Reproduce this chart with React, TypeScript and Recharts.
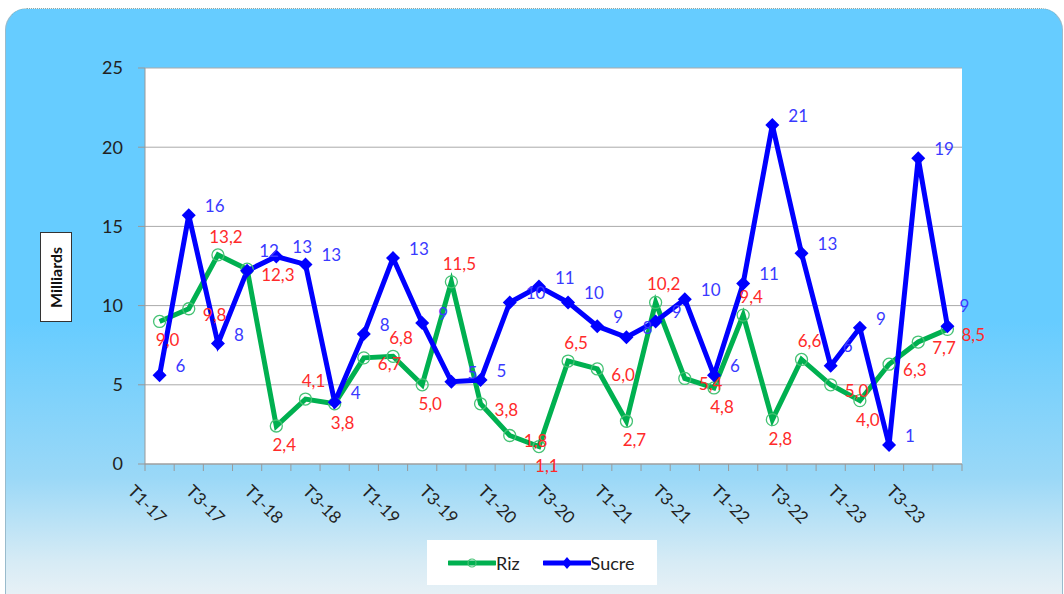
import { ComposedChart, Line, XAxis, YAxis, CartesianGrid } from 'recharts';

const quarters = [
  'T1-17', 'T2-17', 'T3-17', 'T4-17',
  'T1-18', 'T2-18', 'T3-18', 'T4-18',
  'T1-19', 'T2-19', 'T3-19', 'T4-19',
  'T1-20', 'T2-20', 'T3-20', 'T4-20',
  'T1-21', 'T2-21', 'T3-21', 'T4-21',
  'T1-22', 'T2-22', 'T3-22', 'T4-22',
  'T1-23', 'T2-23', 'T3-23', 'T4-23',
];

const riz = [
  9.0, 9.8, 13.2, 12.3, 2.4, 4.1, 3.8, 6.7, 6.8, 5.0, 11.5, 3.8, 1.8, 1.1,
  6.5, 6.0, 2.7, 10.2, 5.4, 4.8, 9.4, 2.8, 6.6, 5.0, 4.0, 6.3, 7.7, 8.5,
];

const sucre = [
  5.6, 15.7, 7.6, 12.2, 13.1, 12.6, 3.9, 8.2, 13.0, 8.9, 5.2, 5.3, 10.2, 11.2,
  10.2, 8.7, 8.0, 9.0, 10.4, 5.6, 11.4, 21.4, 13.3, 6.2, 8.6, 1.2, 19.3, 8.7,
];

const yTicks = [0, 5, 10, 15, 20, 25];

const data = quarters.map((q, i) => ({ q, riz: riz[i], sucre: sucre[i] }));

const FONT = 'Lato, "Open Sans", sans-serif';
const PLOT_LEFT = 145;
const PLOT_RIGHT = 962;
const PLOT_TOP = 68;
const PLOT_BOTTOM = 464;
const BAND = (PLOT_RIGHT - PLOT_LEFT) / quarters.length;
const PX_PER_UNIT = (PLOT_BOTTOM - PLOT_TOP) / 25;

const fmtRiz = (v: number) => v.toFixed(1).replace('.', ',');

// place riz labels above peaks, below troughs, right otherwise
function rizPlacement(i: number) {
  const v = riz[i];
  const prev = i > 0 ? riz[i - 1] : null;
  const next = i < riz.length - 1 ? riz[i + 1] : null;
  if (next === null) return 'right';
  const isMax = (prev === null || v > prev) && v > next;
  const isMin = (prev === null || v < prev) && v < next;
  if (isMax) return 'top';
  if (isMin) return 'bottom';
  return 'right';
}

// sucre label goes right, unless it would sit on top of a riz label
function sucreAbove(i: number) {
  return rizPlacement(i) === 'right' && Math.abs(riz[i] - sucre[i]) * PX_PER_UNIT < 22;
}

const RizLabel = (props: any) => {
  const { x, y, index } = props;
  const pos = rizPlacement(index);
  let tx = x + 14, ty = y + 12, anchor = 'start';
  if (pos === 'top') { tx = x + 8; ty = y - 12; anchor = 'middle'; }
  if (pos === 'bottom') { tx = x + 8; ty = y + 25; anchor = 'middle'; }
  return (
    <text x={tx} y={ty} textAnchor={anchor} fontSize={17} fill="#ff2a2a" fontFamily={FONT}>
      {fmtRiz(riz[index])}
    </text>
  );
};

const SucreLabel = (props: any) => {
  const { x, y, index } = props;
  const above = sucreAbove(index);
  return (
    <text
      x={above ? x + 12 : x + 16}
      y={above ? y - 14 : y - 3}
      textAnchor="start"
      fontSize={17}
      fill="#3a3aff"
      fontFamily={FONT}
    >
      {Math.round(sucre[index])}
    </text>
  );
};

const RizDot = (props: any) => {
  const { cx, cy } = props;
  return <circle cx={cx} cy={cy} r={6} fill="none" stroke="#45c274" strokeWidth={1.3} />;
};

const SucreDot = (props: any) => {
  const { cx, cy } = props;
  const s = 7;
  return <polygon points={`${cx},${cy - s} ${cx + s},${cy} ${cx},${cy + s} ${cx - s},${cy}`} fill="#0000ff" />;
};

const XTick = (props: any) => {
  const { x, payload } = props;
  const i = payload.index;
  return (
    <g>
      <line x1={x - BAND / 2} x2={x - BAND / 2} y1={PLOT_BOTTOM} y2={PLOT_BOTTOM + 7} stroke="#999" />
      {i === quarters.length - 1 && (
        <line x1={x + BAND / 2} x2={x + BAND / 2} y1={PLOT_BOTTOM} y2={PLOT_BOTTOM + 7} stroke="#999" />
      )}
      {i % 2 === 0 && (
        <text
          transform={`translate(${x - 12},${PLOT_BOTTOM + 40}) rotate(45)`}
          textAnchor="middle"
          dominantBaseline="central"
          fontSize={17}
          fill="#222"
          fontFamily={FONT}
        >
          {payload.value}
        </text>
      )}
    </g>
  );
};

export default function App() {
  return (
    <div style={{ position: 'absolute', left: 0, top: 0, width: 1064, height: 594, overflow: 'hidden', background: '#fff' }}>
      {/* blue rounded panel */}
      <div
        style={{
          position: 'absolute', left: 5, top: 8, width: 1056, height: 600,
          borderRadius: '22px 22px 0 0',
          borderTop: '1px dotted #8aa',
          borderLeft: '1px solid #9bc',
          borderRight: '1px solid #9bc',
          background: 'linear-gradient(to bottom, #66ccff 0%, #66ccff 52%, #9ad8f7 78%, #d6ebf5 92%, #eef3f6 100%)',
        }}
      />
      <div style={{ position: 'absolute', left: 0, top: 0 }}>
        <ComposedChart
          width={1064}
          height={594}
          data={data}
          margin={{ top: PLOT_TOP, right: 1064 - PLOT_RIGHT, left: 85, bottom: 70 }}
        >
          <CartesianGrid vertical={false} stroke="#aaa" fill="#fff" />
          <XAxis
            dataKey="q"
            interval={0}
            padding={{ left: BAND / 2, right: BAND / 2 }}
            tickLine={false}
            axisLine={{ stroke: '#999' }}
            tick={<XTick />}
            height={60}
          />
          <YAxis
            domain={[0, 25]}
            ticks={yTicks}
            width={60}
            tickSize={7}
            tickMargin={15}
            tickLine={{ stroke: '#999' }}
            axisLine={{ stroke: '#999' }}
            tick={{ fontSize: 18, fill: '#222', fontFamily: FONT }}
          />
          <Line
            dataKey="riz"
            stroke="#00b050"
            strokeWidth={5}
            dot={<RizDot />}
            activeDot={false}
            label={<RizLabel />}
            isAnimationActive={false}
          />
          <Line
            dataKey="sucre"
            stroke="#0000ff"
            strokeWidth={5}
            dot={<SucreDot />}
            activeDot={false}
            label={<SucreLabel />}
            isAnimationActive={false}
          />
        </ComposedChart>
      </div>
      {/* axis title */}
      <div
        style={{
          position: 'absolute', left: 40, top: 232, width: 30, height: 88,
          background: '#fff', border: '1px solid #333',
          display: 'flex', alignItems: 'center', justifyContent: 'center',
        }}
      >
        <div style={{ transform: 'rotate(-90deg)', fontFamily: FONT, fontWeight: 700, fontSize: 16, color: '#111', whiteSpace: 'nowrap' }}>
          Milliards
        </div>
      </div>
      {/* legend */}
      <div
        style={{
          position: 'absolute', left: 427, top: 540, width: 230, height: 45, background: '#fff',
          display: 'flex', alignItems: 'center', fontFamily: FONT, fontSize: 18, color: '#222',
        }}
      >
        <svg width={48} height={20} style={{ marginLeft: 21 }}>
          <line x1={1} x2={47} y1={10} y2={10} stroke="#00b050" strokeWidth={5} strokeLinecap="round" />
          <circle cx={24} cy={10} r={4} fill="none" stroke="#45c274" strokeWidth={1.2} />
        </svg>
        <span>Riz</span>
        <svg width={48} height={20} style={{ marginLeft: 23 }}>
          <line x1={1} x2={47} y1={10} y2={10} stroke="#0000ff" strokeWidth={5} strokeLinecap="round" />
          <polygon points="24,4 29,10 24,16 19,10" fill="#0000ff" />
        </svg>
        <span>Sucre</span>
      </div>
    </div>
  );
}
